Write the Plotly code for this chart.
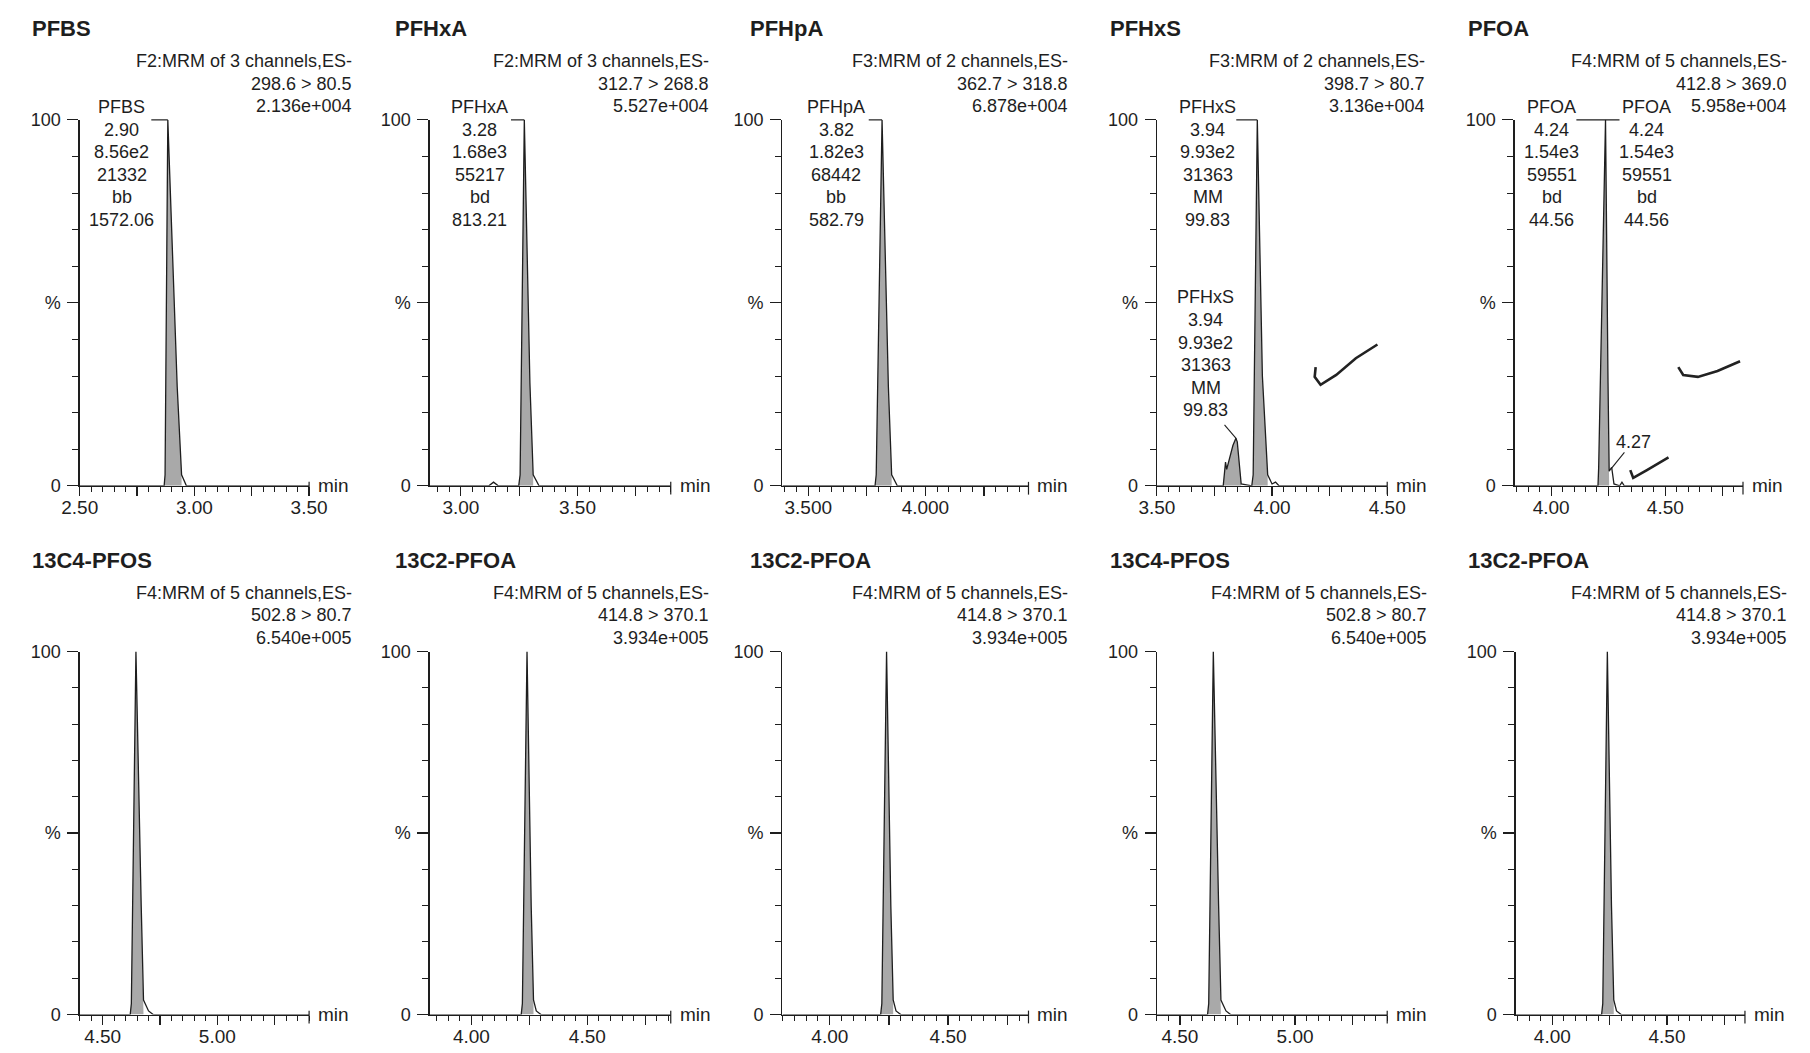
import plotly.graph_objects as go

W, H = 1810, 1053
FONT = "Liberation Sans, Arial, Helvetica, sans-serif"
INK = "#1e1e1e"
FILL = "#a9a9a9"

# ---------------- data ----------------
compound_titles = ["PFBS", "PFHxA", "PFHpA", "PFHxS", "PFOA",
                   "13C4-PFOS", "13C2-PFOA", "13C2-PFOA", "13C4-PFOS", "13C2-PFOA"]
function_lines = ["F2:MRM of 3 channels,ES-", "F2:MRM of 3 channels,ES-",
                  "F3:MRM of 2 channels,ES-", "F3:MRM of 2 channels,ES-",
                  "F4:MRM of 5 channels,ES-", "F4:MRM of 5 channels,ES-",
                  "F4:MRM of 5 channels,ES-", "F4:MRM of 5 channels,ES-",
                  "F4:MRM of 5 channels,ES-", "F4:MRM of 5 channels,ES-"]
transitions = ["298.6 > 80.5", "312.7 > 268.8", "362.7 > 318.8", "398.7 > 80.7", "412.8 > 369.0",
               "502.8 > 80.7", "414.8 > 370.1", "414.8 > 370.1", "502.8 > 80.7", "414.8 > 370.1"]
base_intensity = ["2.136e+004", "5.527e+004", "6.878e+004", "3.136e+004", "5.958e+004",
                  "6.540e+005", "3.934e+005", "3.934e+005", "6.540e+005", "3.934e+005"]
time_ranges = [[2.50, 3.50], [2.866, 3.90], [3.39, 4.44], [3.50, 4.50], [3.84, 4.84],
               [4.40, 5.40], [3.82, 4.86], [3.80, 4.84], [4.40, 5.40], [3.84, 4.84]]
tick_decimals = [2, 2, 3, 2, 2, 2, 2, 2, 2, 2]

# chromatograms: retention time (min) and relative intensity (%)
pfbs_time = [2.50, 2.868, 2.872, 2.884, 2.925, 2.944, 2.965, 3.50]
pfbs_pct = [0, 0, 3, 100, 27, 3, 0, 0]
pfbs_windows = [[2.868, 2.944]]

pfhxa_time = [2.866, 3.12, 3.14, 3.16, 3.248, 3.254, 3.272, 3.296, 3.31, 3.335, 3.90]
pfhxa_pct = [0, 0, 1, 0, 0, 3, 100, 28, 3, 0, 0]
pfhxa_windows = [[3.248, 3.31]]

pfhpa_time = [3.39, 3.785, 3.79, 3.815, 3.842, 3.856, 3.88, 4.44]
pfhpa_pct = [0, 0, 3, 100, 27, 3, 0, 0]
pfhpa_windows = [[3.785, 3.856]]

pfhxs_time = [3.50, 3.788, 3.798, 3.803, 3.83, 3.843, 3.849, 3.866, 3.912, 3.918, 3.936,
              3.958, 3.981, 4.00, 4.015, 4.03, 4.50]
pfhxs_pct = [0, 0, 6.5, 4.5, 11, 13, 12, 0.5, 0, 3, 100, 30, 3, 0.5, 1, 0, 0]
pfhxs_windows = [[3.788, 3.866], [3.912, 3.981]]

pfoa_time = [3.84, 4.205, 4.208, 4.238, 4.249, 4.254, 4.265, 4.275, 4.30, 4.31, 4.32, 4.84]
pfoa_pct = [0, 0, 5, 100, 28, 4, 5, 0.5, 0, 1, 0, 0]
pfoa_windows = [[4.205, 4.254]]

pfos13_time = [4.40, 4.62, 4.625, 4.645, 4.668, 4.678, 4.70, 4.72, 5.40]
pfos13_pct = [0, 0, 3, 100, 30, 4, 1, 0, 0]
pfos13_windows = [[4.62, 4.678]]

pfoa13_time = [3.80, 4.215, 4.22, 4.24, 4.258, 4.268, 4.28, 4.30, 4.86]
pfoa13_pct = [0, 0, 3, 100, 30, 4, 1, 0, 0]
pfoa13_windows = [[4.215, 4.268]]

chrom_time = [pfbs_time, pfhxa_time, pfhpa_time, pfhxs_time, pfoa_time,
              pfos13_time, pfoa13_time, pfoa13_time, pfos13_time, pfoa13_time]
chrom_pct = [pfbs_pct, pfhxa_pct, pfhpa_pct, pfhxs_pct, pfoa_pct,
             pfos13_pct, pfoa13_pct, pfoa13_pct, pfos13_pct, pfoa13_pct]
chrom_windows = [pfbs_windows, pfhxa_windows, pfhpa_windows, pfhxs_windows, pfoa_windows,
                 pfos13_windows, pfoa13_windows, pfoa13_windows, pfos13_windows, pfoa13_windows]

# peak annotation text blocks
pfbs_peak_text = ["PFBS", "2.90", "8.56e2", "21332", "bb", "1572.06"]
pfhxa_peak_text = ["PFHxA", "3.28", "1.68e3", "55217", "bd", "813.21"]
pfhpa_peak_text = ["PFHpA", "3.82", "1.82e3", "68442", "bb", "582.79"]
pfhxs_peak_text = ["PFHxS", "3.94", "9.93e2", "31363", "MM", "99.83"]
pfoa_peak_text = ["PFOA", "4.24", "1.54e3", "59551", "bd", "44.56"]
pfoa_minor_peak = "4.27"

# ---------------- layout positions (pixels) ----------------
X_PX = [(63, 297), (420, 666), (780, 1031), (1162, 1397), (1527, 1760),
        (63, 297), (420, 666), (780, 1031), (1162, 1397), (1528, 1762)]
ROW_Y = [(485, 112), (1024, 654)]   # (0 %, 100 %) pixel rows
TITLE_X = [12, 383, 745, 1112, 1477]
HEADER_RIGHT = [343, 707, 1073, 1438, 1807, 343, 707, 1073, 1440, 1807]
TITLE_Y = [19, 561]
HEADER_Y = [[52, 75, 98], [594, 617, 640]]
LINE_GAP = 23
BLOCK_TOP = 99


def px(x):
    return x / W


def py(y):
    return 1 - y / H


fig = go.Figure()
annotations = []
shapes = []

for k in range(10):
    n = k + 1
    row, col = divmod(k, 5)
    xa = "x" if n == 1 else f"x{n}"
    ya = "y" if n == 1 else f"y{n}"
    t = chrom_time[k]
    p = chrom_pct[k]

    # integrated (filled) areas
    for a, b in chrom_windows[k]:
        ft = [ti for ti in t if a <= ti <= b]
        fp = [pi for ti, pi in zip(t, p) if a <= ti <= b]
        fig.add_trace(go.Scatter(x=ft + [ft[-1], ft[0]], y=fp + [0, 0], mode="lines",
                                 fill="toself", fillcolor=FILL, line=dict(width=0),
                                 xaxis=xa, yaxis=ya, hoverinfo="skip", showlegend=False))
    fig.add_trace(go.Scatter(x=t, y=p, mode="lines", line=dict(color=INK, width=1.3),
                             xaxis=xa, yaxis=ya, showlegend=False, hoverinfo="skip"))

    r0, r1 = time_ranges[k]
    dec = tick_decimals[k]
    tv, tt = [], []
    q = int(r0 * 4 - 1e-9) + 1
    while q / 4 <= r1 + 1e-9:
        v = q / 4
        tv.append(v)
        tt.append(f"{v:.{dec}f}" if q % 2 == 0 else "")
        q += 1

    x0p, x1p = X_PX[k]
    y0p, y1p = ROW_Y[row]
    fig.layout[("xaxis" if n == 1 else f"xaxis{n}")] = dict(
        domain=[px(x0p), px(x1p)], range=[r0, r1], anchor=ya,
        showline=True, linecolor=INK, linewidth=1.3, showgrid=False, zeroline=False,
        ticks="outside", ticklen=9, tickwidth=1.2, tickcolor=INK,
        tickmode="array", tickvals=tv, ticktext=tt,
        tickfont=dict(family=FONT, size=19, color=INK), ticklabelstandoff=-5,
        minor=dict(ticks="outside", ticklen=5, tickwidth=1, tickcolor=INK,
                   dtick=0.05, tick0=0, showgrid=False),
        fixedrange=True)
    fig.layout[("yaxis" if n == 1 else f"yaxis{n}")] = dict(
        domain=[py(y0p), py(y1p)], range=[0, 100], anchor=xa,
        showline=True, linecolor=INK, linewidth=1.3, showgrid=False, zeroline=False,
        ticks="outside", ticklen=11, tickwidth=1.2, tickcolor=INK,
        tickmode="array", tickvals=[0, 50, 100], ticktext=["0", "%", "100"],
        tickfont=dict(family=FONT, size=18, color=INK), ticklabelstandoff=3,
        minor=dict(ticks="outside", ticklen=6, tickwidth=1, tickcolor=INK,
                   dtick=10, tick0=0, showgrid=False),
        fixedrange=True)

    # "min" label and end bracket
    annotations.append(dict(xref=f"{xa} domain", x=1, yref=ya, y=0, text="min",
                            xanchor="left", yanchor="middle", xshift=7, showarrow=False,
                            font=dict(family=FONT, size=19, color=INK)))
    shapes.append(dict(type="line", xref="paper", yref="paper",
                       x0=px(x1p), x1=px(x1p), y0=py(y0p - 4), y1=py(y0p + 9),
                       line=dict(color=INK, width=1.2)))

    # title and header
    annotations.append(dict(xref="paper", yref="paper", x=px(TITLE_X[col]), y=py(TITLE_Y[row]),
                            text=compound_titles[k], xanchor="left", yanchor="middle",
                            showarrow=False,
                            font=dict(family=FONT, size=22, color=INK, weight="bold")))
    for line_txt, hy in zip([function_lines[k], transitions[k], base_intensity[k]], HEADER_Y[row]):
        annotations.append(dict(xref="paper", yref="paper", x=px(HEADER_RIGHT[k]), y=py(hy),
                                text=line_txt, xanchor="right", yanchor="middle",
                                showarrow=False, font=dict(family=FONT, size=18, color=INK)))


def add_block(lines, cx, y_top):
    for i, s in enumerate(lines):
        annotations.append(dict(xref="paper", yref="paper", x=px(cx), y=py(y_top + i * LINE_GAP),
                                text=s, xanchor="center", yanchor="middle", showarrow=False,
                                font=dict(family=FONT, size=18, color=INK)))


def apex_px(k):
    t, p = chrom_time[k], chrom_pct[k]
    ta = t[p.index(max(p))]
    r0, r1 = time_ranges[k]
    x0p, x1p = X_PX[k]
    return x0p + (ta - r0) / (r1 - r0) * (x1p - x0p)


def hline(xa_, xb_, y_, w=1.2):
    shapes.append(dict(type="line", xref="paper", yref="paper", x0=px(xa_), x1=px(xb_),
                       y0=py(y_), y1=py(y_), line=dict(color=INK, width=w)))


# peak labels (row 1)
top_y = ROW_Y[0][1]
add_block(pfbs_peak_text, 106, BLOCK_TOP)
hline(136, apex_px(0), top_y)
add_block(pfhxa_peak_text, 471, BLOCK_TOP)
hline(503, apex_px(1), top_y)
add_block(pfhpa_peak_text, 835, BLOCK_TOP)
hline(868, apex_px(2), top_y)
add_block(pfhxs_peak_text, 1214, BLOCK_TOP)
hline(1243, apex_px(3), top_y)
add_block(pfhxs_peak_text, 1212, 293)
shapes.append(dict(type="line", xref="paper", yref="paper", x0=px(1231), y0=py(423),
                   x1=px(1243), y1=py(437), line=dict(color=INK, width=1.1)))
add_block(pfoa_peak_text, 1565, BLOCK_TOP)
add_block(pfoa_peak_text, 1662, BLOCK_TOP)
hline(1590, 1634, top_y)
annotations.append(dict(xref="paper", yref="paper", x=px(1628), y=py(440), text=pfoa_minor_peak,
                        xanchor="left", yanchor="middle", showarrow=False,
                        font=dict(family=FONT, size=18, color=INK)))
shapes.append(dict(type="line", xref="paper", yref="paper", x0=px(1639), y0=py(451),
                   x1=px(1626), y1=py(467), line=dict(color=INK, width=1.1)))


# hand-drawn check marks
def pen(points):
    d = "M " + " L ".join(f"{px(a):.5f},{py(b):.5f}" for a, b in points)
    shapes.append(dict(type="path", xref="paper", yref="paper", path=d,
                       line=dict(color="#222", width=2.6)))


pen([(1324, 364), (1323, 374), (1329, 382), (1345, 372), (1365, 355), (1387, 341)])
pen([(1694, 364), (1699, 372), (1714, 374), (1734, 368), (1757, 358)])
pen([(1645, 469), (1648, 477), (1662, 469), (1684, 456)])

fig.update_layout(width=W, height=H, margin=dict(l=0, r=0, t=0, b=0),
                  paper_bgcolor="white", plot_bgcolor="white", showlegend=False,
                  annotations=annotations, shapes=shapes)

fig.write_html("out.html", config={"displayModeBar": False, "staticPlot": True},
               post_script="document.body.style.margin='0';document.body.style.overflow='hidden';")
